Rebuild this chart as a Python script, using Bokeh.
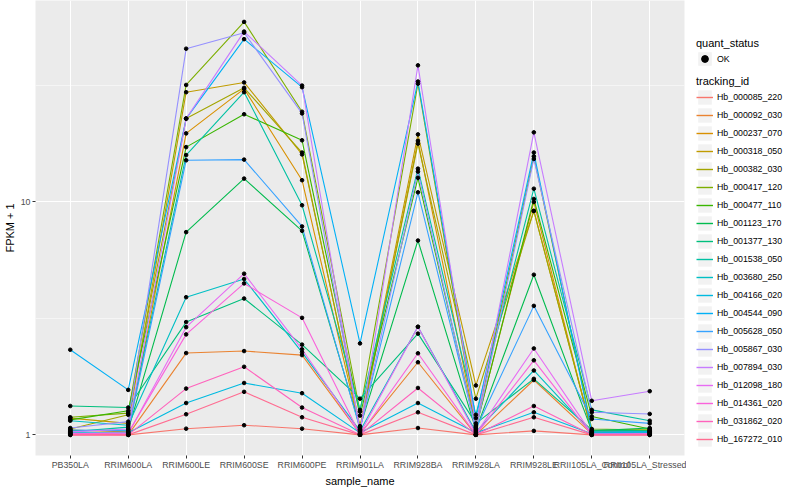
import numpy as np
from bokeh.plotting import figure
from bokeh.models import (Range1d, FactorRange, FixedTicker, Legend, LegendItem,
                          PrintfTickFormatter)
from bokeh.layouts import row
from bokeh.embed import file_html
from bokeh.resources import INLINE

# ---------------- data ----------------
samples = ["PB350LA", "RRIM600LA", "RRIM600LE", "RRIM600SE", "RRIM600PE",
           "RRIM901LA", "RRIM928BA", "RRIM928LA", "RRIM928LE",
           "RRII105LA_Control", "RRII105LA_Stressed"]

tracking_ids = ["Hb_000085_220", "Hb_000092_030", "Hb_000237_070", "Hb_000318_050",
                "Hb_000382_030", "Hb_000417_120", "Hb_000477_110", "Hb_001123_170",
                "Hb_001377_130", "Hb_001538_050", "Hb_003680_250", "Hb_004166_020",
                "Hb_004544_090", "Hb_005628_050", "Hb_005867_030", "Hb_007894_030",
                "Hb_012098_180", "Hb_014361_020", "Hb_031862_020", "Hb_167272_010"]

colors = ["#F8766D", "#EA8331", "#D89000", "#C09B00", "#A3A500", "#7CAE00",
          "#39B600", "#00BB4E", "#00BF7D", "#00C1A3", "#00BFC4", "#00BAE0",
          "#00B0F6", "#35A2FF", "#9590FF", "#C77CFF", "#E76BF3", "#FA62DB",
          "#FF62BC", "#FF6C91"]

hb_000085_220 = [1.00, 1.00, 1.063, 1.10, 1.063, 1.00, 1.07, 1.00, 1.04, 1.00, 1.00]
hb_000092_030 = [1.02, 1.00, 2.245, 2.29, 2.20, 1.01, 2.05, 1.00, 1.72, 1.01, 1.02]
hb_000237_070 = [1.05, 1.03, 19.7, 30.6, 12.4, 1.05, 18.3, 1.08, 10.0, 1.02, 1.03]
hb_000318_050 = [1.18, 1.12, 29.6, 32.6, 16.0, 1.09, 19.5, 1.63, 9.15, 1.04, 1.05]
hb_000382_030 = [1.06, 1.22, 22.8, 30.9, 16.3, 1.07, 17.8, 1.43, 9.15, 1.03, 1.04]
hb_000417_120 = [1.19, 1.24, 31.8, 59.3, 24.4, 1.26, 32.2, 1.10, 15.7, 1.06, 1.05]
hb_000477_110 = [1.16, 1.27, 17.2, 23.8, 18.4, 1.21, 12.7, 1.07, 10.3, 1.20, 1.06]
hb_001123_170 = [1.04, 1.05, 7.42, 12.6, 7.52, 1.08, 6.83, 1.05, 4.87, 1.04, 1.07]
hb_001377_130 = [1.33, 1.31, 3.05, 3.85, 2.44, 1.43, 2.72, 1.12, 1.74, 1.05, 1.04]
hb_001538_050 = [1.03, 1.08, 15.9, 29.6, 9.68, 1.28, 13.9, 1.22, 11.4, 1.28, 1.15]
hb_003680_250 = [1.15, 1.10, 3.90, 4.67, 2.26, 1.04, 2.91, 1.03, 1.89, 1.02, 1.03]
hb_004166_020 = [1.02, 1.02, 1.37, 1.67, 1.51, 1.02, 1.37, 1.02, 1.25, 1.01, 1.02]
hb_004544_090 = [2.32, 1.56, 22.8, 50.0, 31.1, 2.47, 32.9, 1.18, 16.3, 1.03, 1.03]
hb_005628_050 = [1.05, 1.04, 15.1, 15.2, 7.85, 1.06, 11.0, 1.06, 3.58, 1.17, 1.12]
hb_005867_030 = [1.07, 1.14, 45.5, 53.3, 24.0, 1.05, 13.5, 1.04, 15.3, 1.25, 1.23]
hb_007894_030 = [1.03, 1.06, 22.8, 53.9, 31.6, 1.03, 38.6, 1.09, 19.9, 1.40, 1.54]
hb_012098_180 = [1.01, 1.01, 2.90, 4.92, 2.33, 1.01, 2.91, 1.01, 2.35, 1.01, 1.01]
hb_014361_020 = [1.01, 1.02, 2.70, 4.47, 3.18, 1.00, 2.24, 1.00, 2.09, 1.00, 1.01]
hb_031862_020 = [1.00, 1.00, 1.58, 1.96, 1.31, 1.00, 1.59, 1.00, 1.33, 1.00, 1.00]
hb_167272_010 = [1.00, 1.00, 1.226, 1.53, 1.19, 1.00, 1.25, 1.00, 1.19, 1.00, 1.00]

series = [hb_000085_220, hb_000092_030, hb_000237_070, hb_000318_050, hb_000382_030,
          hb_000417_120, hb_000477_110, hb_001123_170, hb_001377_130, hb_001538_050,
          hb_003680_250, hb_004166_020, hb_004544_090, hb_005628_050, hb_005867_030,
          hb_007894_030, hb_012098_180, hb_014361_020, hb_031862_020, hb_167272_010]

y_ticks = [1, 10]
quant_status = ["OK"]

FONT = "Liberation Sans"

# ---------------- main panel ----------------
p = figure(x_range=FactorRange(factors=samples, range_padding=0.1,
                               range_padding_units="absolute"),
           y_axis_type="log", y_range=Range1d(10 ** -0.0886, 10 ** 1.865),
           frame_width=649, frame_height=455,
           min_border_left=0, min_border_right=2, min_border_top=0, min_border_bottom=0,
           output_backend="svg", toolbar_location=None)

p.background_fill_color = "#EBEBEB"
p.border_fill_color = "white"
p.outline_line_color = None

p.xgrid.grid_line_color = "white"
p.xgrid.grid_line_width = 1.07
p.ygrid.grid_line_color = "white"
p.ygrid.grid_line_width = 1.07
p.ygrid.minor_grid_line_color = "white"
p.ygrid.minor_grid_line_width = 0.53

p.yaxis.ticker = FixedTicker(ticks=y_ticks, minor_ticks=[10 ** 0.5, 10 ** 1.5])
p.yaxis.formatter = PrintfTickFormatter(format="%d")

for ax in p.axis:
    ax.axis_line_color = None
    ax.major_tick_line_color = "#333333"
    ax.major_tick_out = 3
    ax.major_tick_in = 0
    ax.minor_tick_line_color = None
    ax.major_label_text_color = "#4D4D4D"
    ax.major_label_text_font = FONT
    ax.major_label_text_font_size = "8.8px"
    ax.major_label_standoff = 1
    ax.axis_label_text_font = FONT
    ax.axis_label_text_font_size = "11px"
    ax.axis_label_text_font_style = "normal"
    ax.axis_label_text_color = "black"
    ax.axis_label_standoff = 2

p.xaxis.axis_label = "sample_name"
p.yaxis.axis_label = "FPKM + 1"

for vals, c in zip(series, colors):
    p.line(x=samples, y=vals, line_color=c, line_width=1.1)
for vals in series:
    p.scatter(x=samples, y=vals, size=3.6, color="black")

# ---------------- legend panel ----------------
lg = figure(width=105, height=484, x_range=Range1d(0, 1), y_range=Range1d(0, 1),
            x_axis_location=None, y_axis_location=None,
            min_border=0, output_backend="svg", toolbar_location=None)
lg.outline_line_color = None
lg.grid.visible = False
lg.background_fill_color = "white"
lg.border_fill_color = "white"

nanx = [np.nan]
bg_r = lg.rect(x=nanx, y=nanx, width=0.1, height=0.1, fill_color="#F2F2F2",
               line_color=None)
dot_r = lg.scatter(x=nanx, y=nanx, size=4, color="black")

items1 = [LegendItem(label=q, renderers=[bg_r, dot_r]) for q in quant_status]
items2 = []
for tid, c in zip(tracking_ids, colors):
    r = lg.line(x=nanx, y=nanx, line_color=c, line_width=1.4)
    items2.append(LegendItem(label=tid, renderers=[bg_r, r]))


def style_legend(leg, gh):
    leg.background_fill_alpha = 0
    leg.border_line_color = None
    leg.padding = 0
    leg.margin = 0
    leg.spacing = 0
    leg.glyph_width = 17
    leg.glyph_height = gh
    leg.label_height = 10
    leg.label_standoff = 4
    leg.label_text_font = FONT
    leg.label_text_font_size = "8.8px"
    leg.label_text_color = "black"
    leg.title_text_font = FONT
    leg.title_text_font_size = "11px"
    leg.title_text_font_style = "normal"
    leg.title_text_color = "black"
    leg.title_standoff = 1


leg1 = Legend(items=items1, title="quant_status", location=(10, 383))
style_legend(leg1, 17)
leg2 = Legend(items=items2, title="tracking_id", location=(10, 2))
style_legend(leg2, 18)
lg.add_layout(leg1)
lg.add_layout(leg2)

layout = row(p, lg)
open("out.html", "w").write(file_html(layout, INLINE))
